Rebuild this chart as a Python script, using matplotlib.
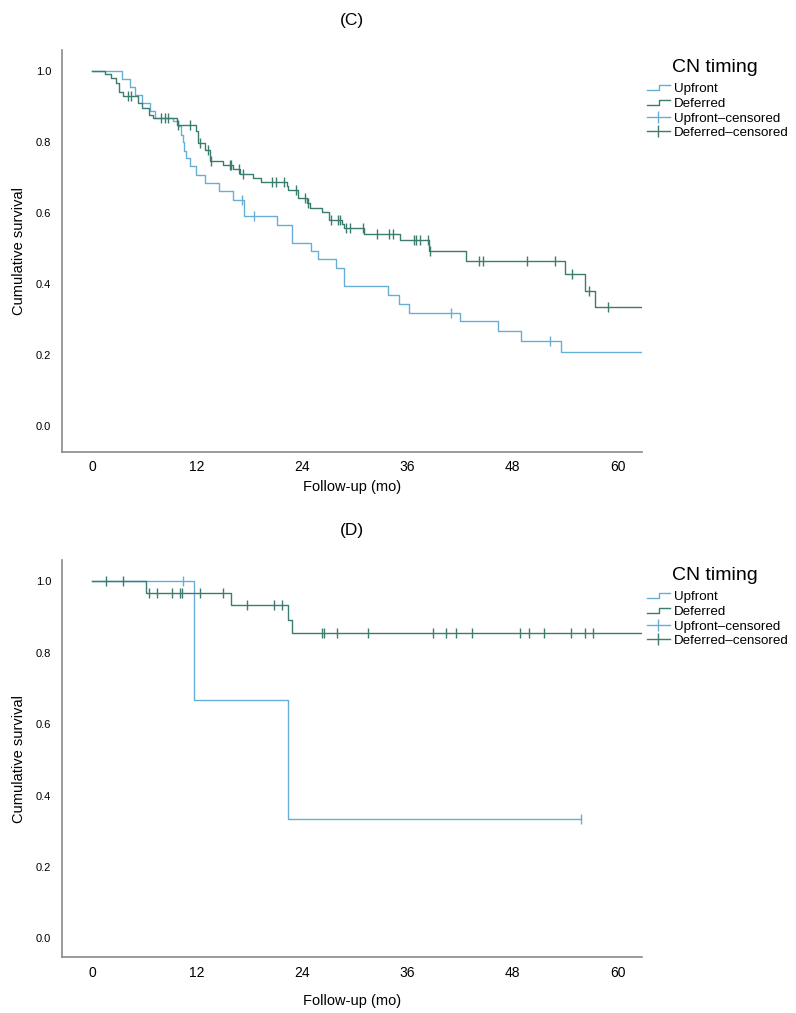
import matplotlib
matplotlib.use("Agg")

import numpy as np
import matplotlib.pyplot as plt
from matplotlib.lines import Line2D
from matplotlib.legend_handler import HandlerBase

plt.rcParams['font.family'] = ['Liberation Sans', 'DejaVu Sans']

# ---- panel (C) ----
c_up_t = [3.4, 4.3, 4.9, 5.7, 6.6, 7.2, 9.3, 9.8, 10.2, 10.4, 10.5, 10.7, 11.2, 11.9,
          12.9, 14.5, 16.1, 17.3, 21.1, 22.8, 25.0, 25.8, 27.8, 28.8, 33.8, 35.0,
          36.2, 42.0, 46.3, 49.0, 53.5]
c_up_s = [0.977, 0.954, 0.932, 0.909, 0.886, 0.866, 0.857, 0.845, 0.82, 0.80, 0.775,
          0.754, 0.731, 0.707, 0.684, 0.660, 0.637, 0.590, 0.566, 0.516, 0.493, 0.469,
          0.444, 0.394, 0.369, 0.344, 0.319, 0.294, 0.266, 0.240, 0.209]
c_up_cens = [17.1, 18.5, 41.0, 52.3]
c_up_end = 63

c_def_t = [1.5, 2.2, 2.8, 3.1, 3.6, 5.3, 5.7, 6.5, 7.0, 9.7, 11.9, 12.1, 12.9, 13.5,
           15.0, 16.1, 16.9, 18.4, 19.3, 22.2, 22.4, 23.5, 24.5, 24.9, 26.2, 27.1,
           28.5, 28.8, 31.0, 35.1, 38.5, 42.7, 54.0, 56.3, 57.4]
c_def_s = [0.99, 0.98, 0.965, 0.94, 0.928, 0.909, 0.895, 0.876, 0.867, 0.846, 0.83,
           0.796, 0.777, 0.745, 0.735, 0.724, 0.710, 0.698, 0.686, 0.676, 0.665, 0.641,
           0.627, 0.613, 0.601, 0.580, 0.569, 0.557, 0.540, 0.522, 0.493, 0.463, 0.427,
           0.381, 0.334]
c_def_cens = [4.1, 4.5, 7.9, 8.3, 8.7, 9.8, 11.2, 12.3, 13.2, 13.6, 15.7, 15.9, 16.8,
              17.2, 20.6, 21.0, 21.9, 23.3, 24.3, 24.7, 27.3, 28.1, 28.3, 29.0, 29.4,
              30.9, 32.5, 33.9, 34.3, 36.7, 37.0, 37.4, 38.3, 38.6, 44.2, 44.6, 49.6,
              52.8, 54.8, 56.7, 58.9]
c_def_end = 63

# ---- panel (D) ----
d_up_t = [11.6, 22.4]
d_up_s = [0.667, 0.333]
d_up_cens = [10.4, 55.8]
d_up_end = 55.8

d_def_t = [6.2, 15.9, 22.4, 22.8]
d_def_s = [0.968, 0.933, 0.891, 0.855]
d_def_cens = [1.6, 3.6, 6.5, 7.4, 9.1, 10.0, 10.3, 12.3, 15.0, 17.7, 20.8, 21.7, 26.3,
              26.5, 28.0, 31.5, 38.9, 40.4, 41.5, 43.4, 48.8, 49.9, 51.6, 54.6, 56.3, 57.2]
d_def_end = 63

x_ticks = [0, 12, 24, 36, 48, 60]
y_ticks = [0.0, 0.2, 0.4, 0.6, 0.8, 1.0]
labels = ["Upfront", "Deferred", "Upfront\u2013censored", "Deferred\u2013censored"]

c_up = "#67aed6"
c_def = "#3a7c6e"

W, H = 796, 1013


class StepHandler(HandlerBase):
    def create_artists(self, legend, orig_handle, xdescent, ydescent, width, height,
                       fontsize, trans):
        x0, x1 = -xdescent, -xdescent + width
        xm = x0 + width * 0.55
        ylo = -ydescent + height * 0.2
        yhi = -ydescent + height * 0.75
        ln = Line2D([x0, xm, xm, x1], [ylo, ylo, yhi, yhi],
                    color=orig_handle.get_color(), lw=1.0, transform=trans)
        return [ln]


def km(ax, t, s, end, cens, color):
    tt = np.r_[0, t, end]
    ss = np.r_[1.0, s, s[-1]]
    ax.step(tt, ss, where="post", color=color, lw=1.0)
    idx = np.searchsorted(np.asarray(t), cens, side="right")
    cs = np.r_[1.0, s][idx]
    ax.plot(cens, cs, ls="none", marker="|", ms=7, mew=1.0, color=color)


def panel(ax, title, up, dfr, ylim, xlabpad, leg_top_px, title_px):
    km(ax, *up, c_up)
    km(ax, *dfr, c_def)
    ax.set_xlim(-3.4, 62.7)
    ax.set_ylim(*ylim)
    ax.set_xticks(x_ticks)
    ax.set_yticks(y_ticks)
    ax.set_yticklabels([f"{v:.1f}" for v in y_ticks], fontsize=8)
    ax.tick_params(axis="x", labelsize=10, length=0, pad=6)
    ax.tick_params(axis="y", length=0, pad=8)
    for sp in ["top", "right"]:
        ax.spines[sp].set_visible(False)
    for sp in ["left", "bottom"]:
        ax.spines[sp].set_color("#8a8a8a")
        ax.spines[sp].set_linewidth(1.2)
    ax.set_xlabel("Follow-up (mo)", fontsize=10.5, labelpad=xlabpad)
    ax.set_ylabel("Cumulative survival", fontsize=10.5, labelpad=7)
    ax.set_title(title, fontsize=12.5, pad=18)
    h = [Line2D([], [], color=c_up), Line2D([], [], color=c_def),
         Line2D([], [], color=c_up, marker="|", ms=9, lw=1.0),
         Line2D([], [], color=c_def, marker="|", ms=9, lw=1.0)]
    ax.legend(h, labels, loc="upper left",
              bbox_to_anchor=(647 / W, 1 - leg_top_px / H),
              bbox_transform=fig.transFigure, borderaxespad=0, borderpad=0,
              frameon=False, fontsize=9.6, handlelength=1.7, handletextpad=0.3,
              labelspacing=0.17, numpoints=1,
              handler_map={h[0]: StepHandler(), h[1]: StepHandler()})
    fig.text(672 / W, 1 - title_px / H, "CN timing", fontsize=14,
             ha="left", va="center")


fig = plt.figure(figsize=(W / 100, H / 100), dpi=100)
ax1 = fig.add_axes([0.078, 0.554, 0.728, 0.397])
ax2 = fig.add_axes([0.078, 0.055, 0.728, 0.392])

panel(ax1, "(C)", (c_up_t, c_up_s, c_up_end, c_up_cens),
      (c_def_t, c_def_s, c_def_end, c_def_cens), (-0.073, 1.059), 4, 83, 68)
panel(ax2, "(D)", (d_up_t, d_up_s, d_up_end, d_up_cens),
      (d_def_t, d_def_s, d_def_end, d_def_cens), (-0.053, 1.059), 10, 591, 576)

fig.savefig("out.png", dpi=100)
plt.close(fig)
